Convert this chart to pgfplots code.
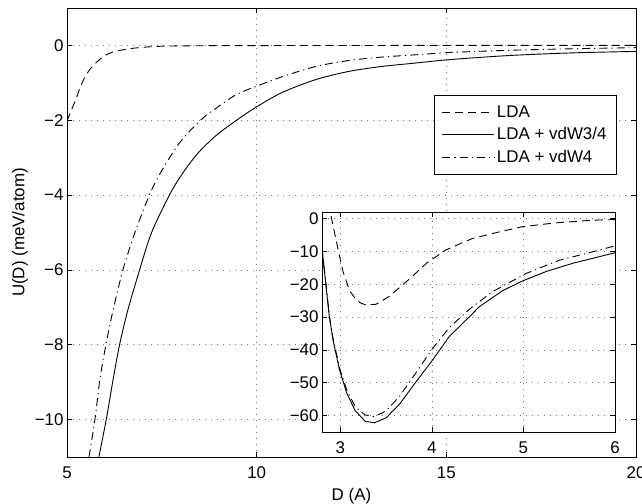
\documentclass[border=0pt]{standalone}
\usepackage{fontspec}
\setmainfont{Liberation Sans}
\usepackage{pgfplots}
\pgfplotsset{compat=1.18}

\pgfplotsset{
  matlab/.style={
    scale only axis,
    axis line style={line width=0.9bp},
    tick align=inside,
    major tick length=5bp,
    tick style={line width=0.7bp, black},
    grid=major,
    grid style={line width=0.7bp, black!55, dash pattern=on 0.8bp off 5.2bp},
    tick label style={font=\fontsize{17}{20}\selectfont},
    label style={font=\fontsize{17}{20}\selectfont},
    xticklabel style={yshift=-6bp},
  },
  ldadash/.style={black, line width=0.9bp, dash pattern=on 8bp off 5bp},
  vdw34/.style={black, line width=0.9bp},
  vdw4/.style={black, line width=0.9bp, dash pattern=on 8bp off 4bp on 1.2bp off 4bp},
}

\begin{document}
\begin{tikzpicture}
% main panel
\begin{axis}[
    matlab,
    at={(67bp,-457bp)}, anchor=south west,
    width=569bp, height=449bp,
    xmin=5, xmax=20, ymin=-11, ymax=1,
    xtick={5,10,15,20},
    xticklabels={5,10,15,20},
    ytick={-10,-8,-6,-4,-2,0},
    yticklabels={−10,−8,−6,−4,−2,0},
    xlabel={D (A)},
    xlabel style={yshift=-3bp},
    ylabel={U(D) (meV/atom)},
    legend style={at={(rel axis cs:0.9666,0.806)}, anchor=north east,
        draw=black, line width=0.9bp, fill=white,
        font=\fontsize{17}{20}\selectfont, row sep=5bp,
        inner xsep=8bp, inner ysep=8bp},
    legend cell align=left,
    legend image code/.code={\draw[#1] (0bp,0bp) -- (52bp,0bp);},
]
\addplot[ldadash, smooth, tension=0.5] coordinates {
 (5.0,-2.02) (5.14,-1.67) (5.25,-1.40) (5.34,-1.14) (5.46,-0.87)
 (5.61,-0.63) (5.78,-0.45) (6.0,-0.27) (6.26,-0.16) (6.53,-0.11)
 (6.79,-0.07) (7.3,-0.03) (8.0,-0.012) (10,-0.004) (15,0) (20,0)
};
\addlegendentry{LDA}
\addplot[vdw34, smooth, tension=0.5] coordinates {
 (5.84,-11.0) (6.04,-9.97) (6.22,-8.9) (6.39,-7.98) (6.61,-7.05)
 (6.92,-5.98) (7.23,-5.0) (7.71,-3.98) (8.06,-3.4) (8.46,-2.87)
 (8.94,-2.4) (9.47,-2.0) (10.0,-1.64) (10.69,-1.25) (11.57,-0.91)
 (12.45,-0.69) (13.32,-0.56) (14.2,-0.47) (15.08,-0.38) (16.66,-0.27)
 (18.3,-0.2) (20,-0.16)
};
\addlegendentry{LDA + vdW3/4}
\addplot[vdw4, smooth, tension=0.5] coordinates {
 (5.58,-11.0) (5.74,-9.97) (5.87,-8.9) (6.03,-7.98) (6.22,-7.05)
 (6.48,-5.98) (6.79,-5.0) (7.18,-3.98) (7.49,-3.36) (7.97,-2.6)
 (8.54,-1.98) (8.94,-1.67) (9.47,-1.31) (10,-1.09) (10.69,-0.83)
 (11.57,-0.56) (12.45,-0.4) (13.32,-0.31) (14.2,-0.25) (15.08,-0.19)
 (16.66,-0.13) (18.3,-0.09) (20,-0.06)
};
\addlegendentry{LDA + vdW4}
\end{axis}

% inset: the well region
\begin{axis}[
    matlab,
    at={(322bp,-432bp)}, anchor=south west,
    width=293bp, height=220bp,
    axis background/.style={fill=white},
    xmin=2.8, xmax=6, ymin=-65, ymax=2,
    xtick={3,4,5,6},
    xticklabels={3,4,5,6},
    ytick={-60,-50,-40,-30,-20,-10,0},
    yticklabels={−60,−50,−40,−30,−20,−10,0},
]
\addplot[ldadash] coordinates {
 (2.87,4.6) (2.977,-9.6) (3.03,-16.2) (3.10,-21.8) (3.16,-24.3)
 (3.22,-25.7) (3.28,-26.3) (3.39,-26.1) (3.53,-23.8) (3.73,-19.0)
 (3.95,-13.4) (4.15,-9.6) (4.33,-7.4) (4.44,-6.1) (4.73,-4.1)
 (4.98,-2.5) (5.35,-1.3) (5.75,-0.5) (6.0,-0.3)
};
\addplot[vdw34] coordinates {
 (2.8,-9.1) (2.88,-29.9) (2.92,-36.9) (2.99,-46.0) (3.07,-53.1)
 (3.16,-58.4) (3.27,-61.7) (3.37,-62.2) (3.50,-60.7) (3.65,-56.4)
 (3.83,-49.6) (4.01,-43.0) (4.19,-35.9) (4.41,-29.9) (4.52,-26.8)
 (4.77,-22.0) (4.99,-19.0) (5.25,-16.1) (5.54,-13.6) (5.83,-11.6)
 (6.0,-10.4)
};
\addplot[vdw4] coordinates {
 (2.8,-8.9) (2.88,-29.5) (2.92,-36.4) (2.99,-45.3) (3.07,-52.2)
 (3.16,-57.2) (3.27,-59.8) (3.37,-60.3) (3.50,-58.6) (3.65,-54.0)
 (3.83,-46.8) (4.01,-39.5) (4.19,-33.2) (4.41,-27.6) (4.66,-22.3)
 (5.03,-16.7) (5.39,-12.7) (5.76,-10.1) (6.0,-8.3)
};
\end{axis}

\pgfresetboundingbox
\useasboundingbox (0bp,0bp) rectangle (642bp,-504bp);
\end{tikzpicture}
\end{document}
